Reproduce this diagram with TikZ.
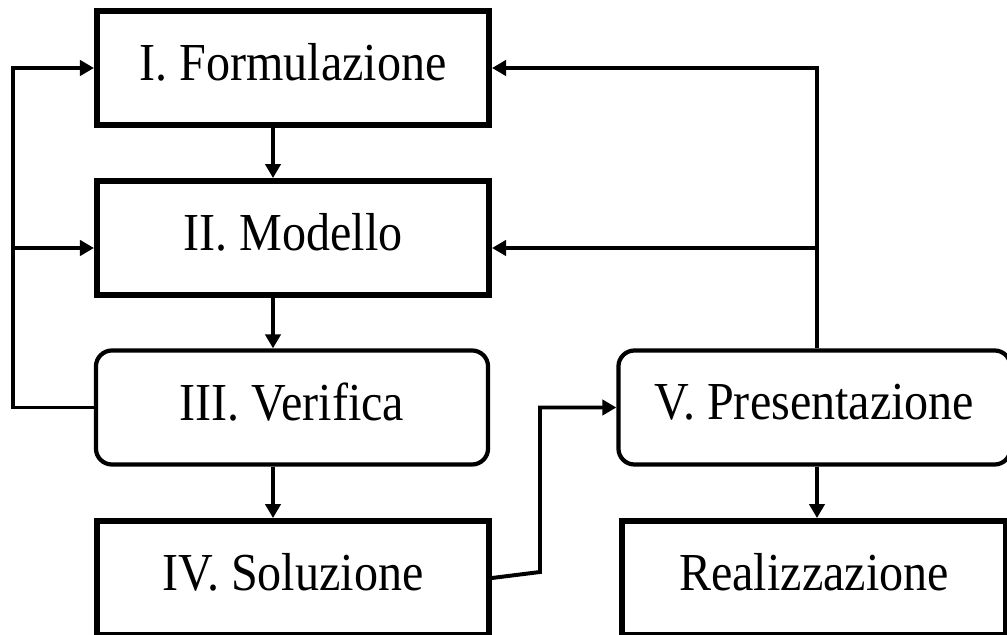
\documentclass[tikz,border=0pt]{standalone}
\usepackage{fontspec}
\setmainfont{Liberation Serif}[FakeStretch=0.9]
\usetikzlibrary{arrows.meta}

\tikzset{
	stage/.style = {draw, line width=4.2pt, minimum width=9.8cm, minimum height=2.85cm, text depth=0.3cm, font=\fontsize{38}{40}\selectfont},
	check/.style = {stage, line width=3pt, rounded corners=0.4cm},
	link/.style = {line width=2.8pt, -{Triangle[length=0.35cm, width=0.38cm]}},
}

\begin{document}
\begin{tikzpicture}[x=0.025cm, y=-0.025cm]
	\useasboundingbox (0,0) rectangle (1007,635);

	\node[stage] (form) at (293,68) {I. Formulazione};
	\node[stage] (mod) at (293,238) {II. Modello};
	\node[check] (ver) at (292,407.5) {III. Verifica};
	\node[stage] (sol) at (293,578) {IV. Soluzione};
	\node[check] (pres) at (814.5,407.5) {V. Presentazione};
	\node[stage, minimum width=9.6cm] (real) at (814,578) {Realizzazione};

	\coordinate (spine) at (273,0);
	\coordinate (lft) at (13,248);
	\coordinate (rgt) at (817,248);
	\coordinate (bend) at (540,572);

	\draw[link] (form.south -| spine) -- (mod.north -| spine);
	\draw[link] (mod.south -| spine) -- (ver.north -| spine);
	\draw[link] (ver.south -| spine) -- (sol.north -| spine);
	\draw[link] (pres.south -| rgt) -- (real.north -| rgt);

	\draw[link, line join=miter] (ver.west) -| (lft) |- (form.west);
	\draw[link] (lft) -- (lft -| mod.west);

	\draw[link, line join=miter] (pres.north -| rgt) -- (rgt) |- (form.east);
	\draw[link] (rgt) -- (rgt -| mod.east);

	\draw[link, line join=miter] (sol.east) -- (bend) |- (pres.west);
\end{tikzpicture}
\end{document}
